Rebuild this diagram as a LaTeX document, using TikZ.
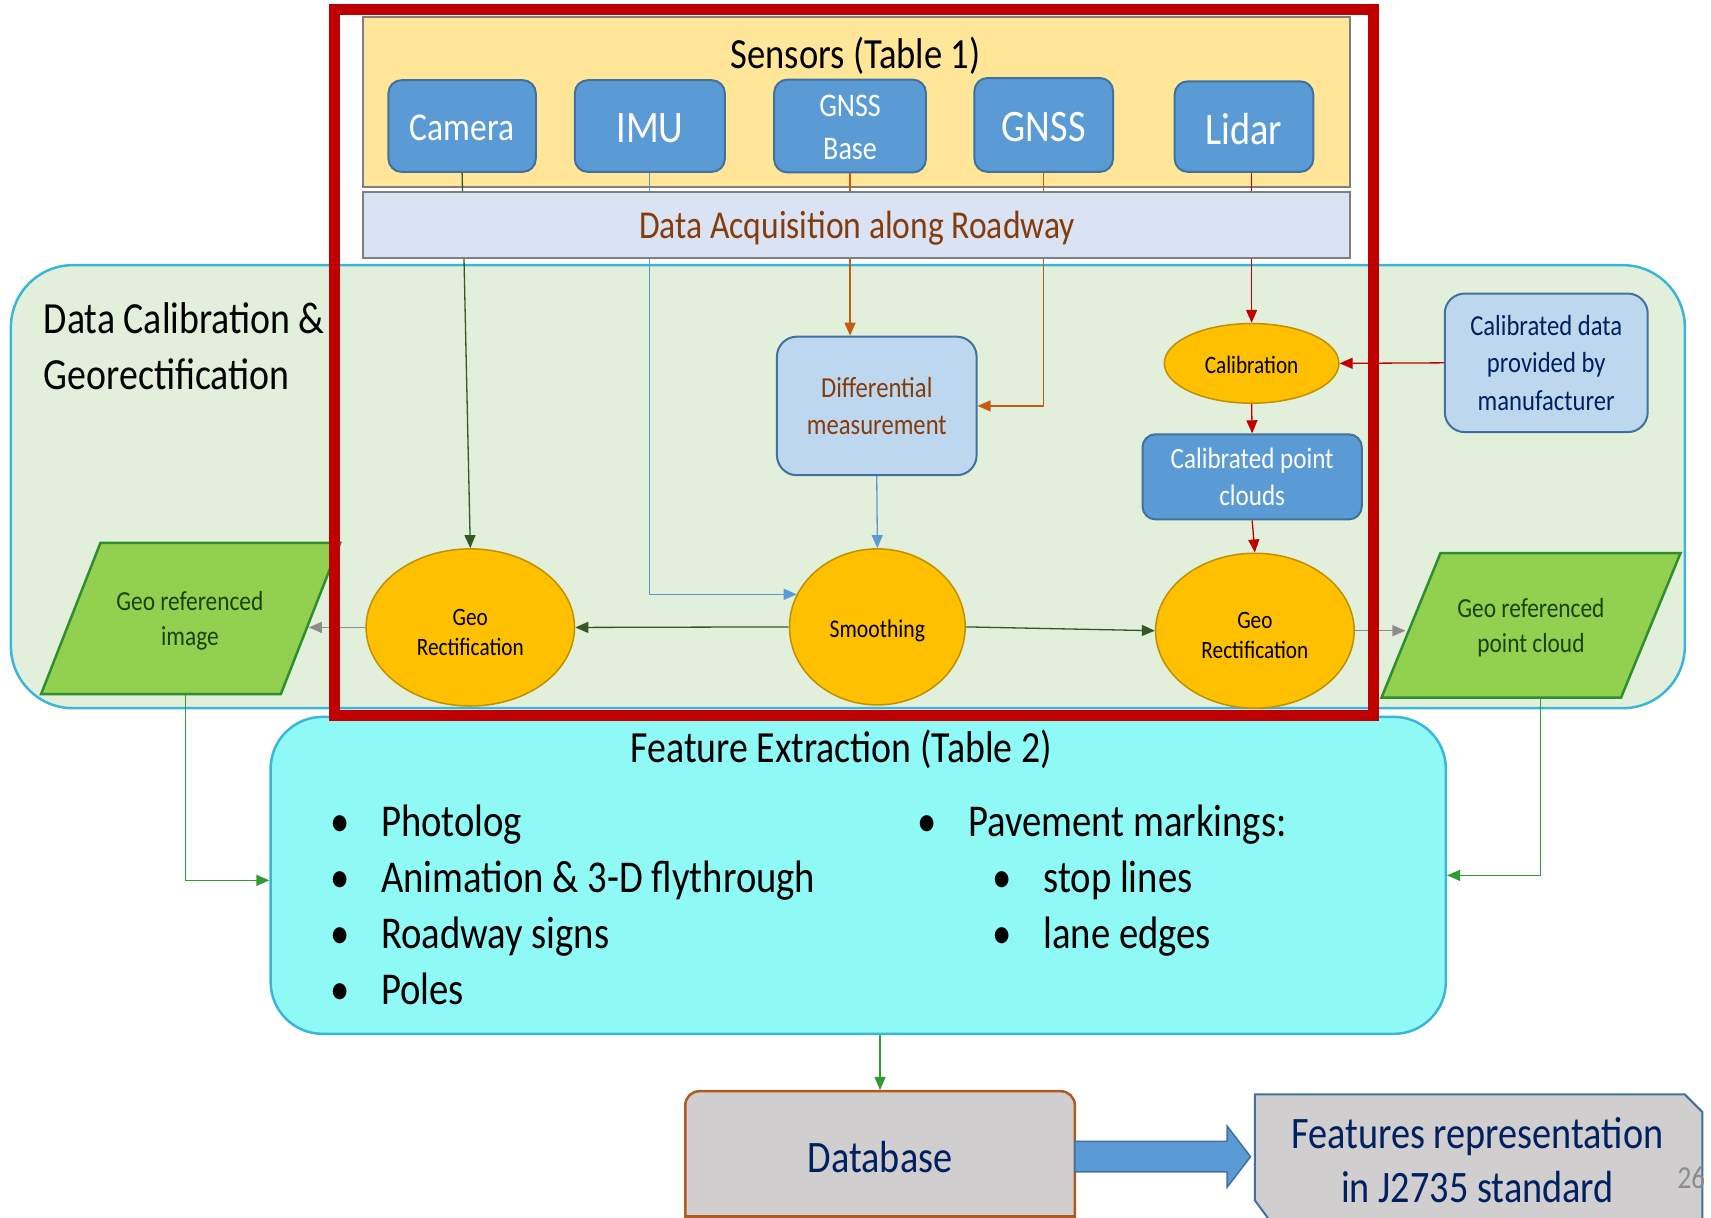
\documentclass[tikz,border=0pt]{standalone}
\usepackage{fontspec}
\setmainfont{Carlito}[FakeStretch=0.85]
\usetikzlibrary{arrows.meta,shapes.geometric,calc}
\pgfdeclarelayer{back}
\pgfdeclarelayer{lines}
\pgfdeclarelayer{front}
\pgfsetlayers{back,lines,main,front}
\definecolor{cRed}{HTML}{C00000}
\definecolor{cYellow}{HTML}{FFE699}
\definecolor{cSensBlue}{HTML}{5B9BD5}
\definecolor{cBlueEdge}{HTML}{41719C}
\definecolor{cAcq}{HTML}{DAE3F3}
\definecolor{cGrayEdge}{HTML}{7F7F7F}
\definecolor{cRegion}{HTML}{E2EFDA}
\definecolor{cCyan}{HTML}{3BB5DA}
\definecolor{cGold}{HTML}{FFC000}
\definecolor{cGoldEdge}{HTML}{BF9000}
\definecolor{cLightBlue}{HTML}{BDD7EE}
\definecolor{cPGreen}{HTML}{92D050}
\definecolor{cPGreenEdge}{HTML}{2F8F2F}
\definecolor{cGreenText}{HTML}{1A420C}
\definecolor{cFE}{HTML}{8FF9F5}
\definecolor{cDB}{HTML}{D0CECE}
\definecolor{cDBedge}{HTML}{AE5A21}
\definecolor{cNavy}{HTML}{002060}
\definecolor{cBrown}{HTML}{843C0C}
\definecolor{cDarkGreen}{HTML}{385723}
\definecolor{cOrange}{HTML}{C55A11}
\definecolor{cMidGreen}{HTML}{339933}
\definecolor{cGrayArrow}{HTML}{8C8C8C}
\definecolor{cPage}{HTML}{8C8C8C}
\newcommand\pxu{1.0912pt}
\newcommand\fsz[2]{\fontsize{#1}{#2}\selectfont}
\begin{document}
\begin{tikzpicture}[x=1.0912pt,y=-1.0912pt,
  sensorbox/.style={draw=cBlueEdge, fill=cSensBlue, line width=2pt, rounded corners=13pt, text=white, align=center, inner sep=0pt},
  senslabel/.style={text=white, align=center, inner sep=0pt},
  lbbox/.style={draw=cBlueEdge, fill=cLightBlue, line width=2pt, rounded corners=20pt, align=center, inner sep=0pt},
  goldell/.style={ellipse, draw=cGoldEdge, fill=cGold, line width=1.5pt, inner sep=0pt},
  ellabel/.style={align=center, inner sep=0pt, font=\fsz{25}{30}},
  conn/.style={line width=1.3pt, -{Triangle[length=13pt,width=11pt]}},
  pgram/.style={fill=cPGreen, draw=cPGreenEdge, line width=2.5pt, line join=miter},
  pgtext/.style={text=cGreenText, align=center, font=\fsz{27.5}{35}},
  bul/.style={anchor=base, inner sep=0pt, font=\fsz{45.5}{56}},
  itemtext/.style={anchor=base west, inner sep=0pt, font=\fsz{45.5}{56}},
]
\useasboundingbox (0,0) rectangle (1568,1116);

% ---------- background containers
\begin{pgfonlayer}{back}
  \draw[fill=cRegion, draw=cCyan, line width=2.5pt, rounded corners=62pt] (10,243) rectangle (1544,649);
  \draw[fill=cYellow, draw=cGrayEdge, line width=2pt] (333,15.5) rectangle (1237,171);
\end{pgfonlayer}

% ---------- sensors
\node[font=\fsz{43}{48}] (senstitle) at (784,51) {Sensors (Table 1)};
\node[sensorbox, minimum width=135*\pxu, minimum height=84*\pxu] (camera) at (423.5,115.5) {};
\node[senslabel, font=\fsz{39.5}{45}] (cameralabel) at (423.5,117.5) {Camera};
\node[sensorbox, minimum width=137.5*\pxu, minimum height=84*\pxu] (imu) at (595.5,115.5) {};
\node[senslabel, font=\fsz{45}{50}] (imulabel) at (595.5,117.5) {IMU};
\node[sensorbox, minimum width=139*\pxu, minimum height=85*\pxu] (gnssb) at (779,115.5) {};
\node[senslabel, font=\fsz{33}{43}] (gnssblabel) at (779,117) {GNSS\\Base};
\node[sensorbox, minimum width=127*\pxu, minimum height=86*\pxu] (gnss) at (956.5,114.5) {};
\node[senslabel, font=\fsz{45}{48}] (gnsslabel) at (956.5,116.5) {GNSS};
\node[sensorbox, minimum width=127*\pxu, minimum height=83*\pxu] (lidar) at (1140,116) {};
\node[senslabel, font=\fsz{45}{48}] (lidarlabel) at (1140,118) {Lidar};

\node[draw=cGrayEdge, fill=cAcq, line width=2pt, minimum width=904*\pxu, minimum height=61*\pxu, inner sep=0pt] (acq) at (785,206) {};
\node[text=cBrown, font=\fsz{39.5}{45}] (acqlabel) at (785.5,209) {Data Acquisition along Roadway};

% ---------- calibration region
\node[anchor=base west, inner sep=0pt, font=\fsz{44.5}{50}] (regt1) at (40,306) {Data Calibration \&};
\node[anchor=base west, inner sep=0pt, font=\fsz{44.5}{50}] (regt2) at (40,356.8) {Georectification};

\node[goldell, minimum width=160*\pxu, minimum height=73*\pxu] (calib) at (1147,333) {};
\node[ellabel] (caliblabel) at (1147,334) {Calibration};
\node[lbbox, text=cNavy, minimum width=186*\pxu, minimum height=127*\pxu, font=\fsz{29}{37.5}] (caldata) at (1417,332.5) {Calibrated data\\provided by\\manufacturer};
\node[lbbox, text=cBrown, minimum width=183*\pxu, minimum height=127*\pxu, font=\fsz{29}{37}] (diff) at (803.5,372) {Differential\\measurement};
\node[sensorbox, minimum width=201*\pxu, minimum height=78*\pxu, font=\fsz{29.5}{37}] (cpc) at (1147.5,437) {Calibrated point\\clouds};

\node[goldell, minimum width=191*\pxu, minimum height=144*\pxu] (georl) at (431,575) {};
\node[ellabel] (georllabel) at (431,579.5) {Geo\\Rectification};
\node[goldell, minimum width=161*\pxu, minimum height=143*\pxu] (smooth) at (804,574.5) {};
\node[ellabel, font=\fsz{25.5}{30}] (smoothlabel) at (804,578) {Smoothing};
\node[goldell, minimum width=182*\pxu, minimum height=142*\pxu] (geor) at (1150,578) {};
\node[ellabel] (georlabel) at (1150,582.5) {Geo\\Rectification};

\path[pgram] (92,497.6) -- (311.7,497.6) -- (257.4,636) -- (37.7,636) -- cycle;
\node[pgtext] (gimg) at (174,569) {Geo referenced\\image};
\coordinate (gimgE) at (283,575);
\coordinate (gimgS) at (170,636);

\path[pgram] (1320,507) -- (1540,507) -- (1485.5,639.4) -- (1266,639.4) -- cycle;
\node[pgtext] (gpc) at (1403,575.5) {Geo referenced\\point cloud};
\coordinate (gpcW) at (1288,578);
\coordinate (gpcS) at (1411.5,639.4);

% ---------- feature extraction
\node[draw=cCyan, fill=cFE, line width=2.5pt, rounded corners=52pt, minimum width=1077*\pxu, minimum height=290.5*\pxu] (fe) at (786.5,802.2) {};
\node[anchor=base, font=\fsz{44.5}{50}] (fetitle) at (771,699) {Feature Extraction (Table 2)};

\node[bul] (b1) at (312,766.8) {\textbullet};
\node[itemtext] (t1) at (349,766.8) {Photolog};
\node[bul] (b2) at (312,818.1) {\textbullet};
\node[itemtext] (t2) at (349,818.1) {Animation \& 3-D flythrough};
\node[bul] (b3) at (312,869.4) {\textbullet};
\node[itemtext] (t3) at (349,869.4) {Roadway signs};
\node[bul] (b4) at (312,920.7) {\textbullet};
\node[itemtext] (t4) at (349,920.7) {Poles};
\node[bul] (b5) at (849.5,766.8) {\textbullet};
\node[itemtext] (t5) at (887,766.8) {Pavement markings:};
\node[bul] (b6) at (918.5,817.5) {\textbullet};
\node[itemtext] (t6) at (956,817.5) {stop lines};
\node[bul] (b7) at (918.5,868.8) {\textbullet};
\node[itemtext] (t7) at (956,868.8) {lane edges};

% ---------- database and output
\node[draw=cDBedge, fill=cDB, line width=2.5pt, rounded corners=14pt, minimum width=357*\pxu, minimum height=131*\pxu] (db) at (806.5,1065.5) {};
\coordinate (dbbot) at (0,1115);
\draw[cDBedge, line width=2.5pt] (db.west |- dbbot) -- (db.east |- dbbot);
\node[text=cNavy, font=\fsz{45}{50}] (dblabel) at (806.5,1060) {Database};

\path[draw=cBlueEdge, fill=cDB, line width=2pt] (1150,1003) -- (1544,1003) -- (1560,1019) -- (1560,1130) -- (1172,1130) -- (1150,1100) -- cycle;
\node[text=cNavy, align=center, font=\fsz{45}{54.5}] (feat) at (1354,1063) {Features representation\\in J2735 standard};

\path[fill=cSensBlue, draw=cBlueEdge, line width=1.5pt] (985,1046) -- (1124.6,1046) -- (1124.6,1032) -- (1146,1060) -- (1124.6,1088) -- (1124.6,1074) -- (985,1074) -- cycle;

\node[anchor=base, text=cPage, font=\fsz{32}{38}] (pagenum) at (1550,1089) {26};

% ---------- connectors
\begin{pgfonlayer}{lines}
  \draw[conn, cDarkGreen] (camera.south) -- (georl.north);
  \draw[conn, cSensBlue] (imu.south) |- (smooth.158);
  \draw[conn, cOrange] (gnssb.south) -- (gnssb.south |- diff.north);
  \draw[conn, cOrange] (gnss.south) |- (diff.east);
  \draw[conn, cRed] (calib.north |- lidar.south) -- (calib.north);
  \draw[conn, cRed] (caldata.west) -- (calib.east);
  \draw[conn, cRed] (calib.south) -- (cpc.north);
  \draw[conn, cRed] (cpc.south) -- (geor.north);
  \draw[conn, cSensBlue] (diff.south) -- (smooth.north);
  \draw[conn, cDarkGreen] (smooth.west) -- (georl.east);
  \draw[conn, cDarkGreen] (smooth.east) -- (geor.west);
  \draw[conn, cGrayArrow] (georl.west) -- (gimgE);
  \draw[conn, cGrayArrow] (geor.east) -- (gpcW);
  \draw[conn, cMidGreen] (gimgS) |- ([yshift=-5pt]fe.west);
  \draw[conn, cMidGreen] (gpcS) |- (fe.east);
  \draw[conn, cMidGreen] (db.north |- fe.south) -- (db.north);
\end{pgfonlayer}

% ---------- highlight frame
\begin{pgfonlayer}{front}
  \draw[cRed, line width=11pt] (306.5,8.3) rectangle (1259,656);
\end{pgfonlayer}
\end{tikzpicture}
\end{document}
